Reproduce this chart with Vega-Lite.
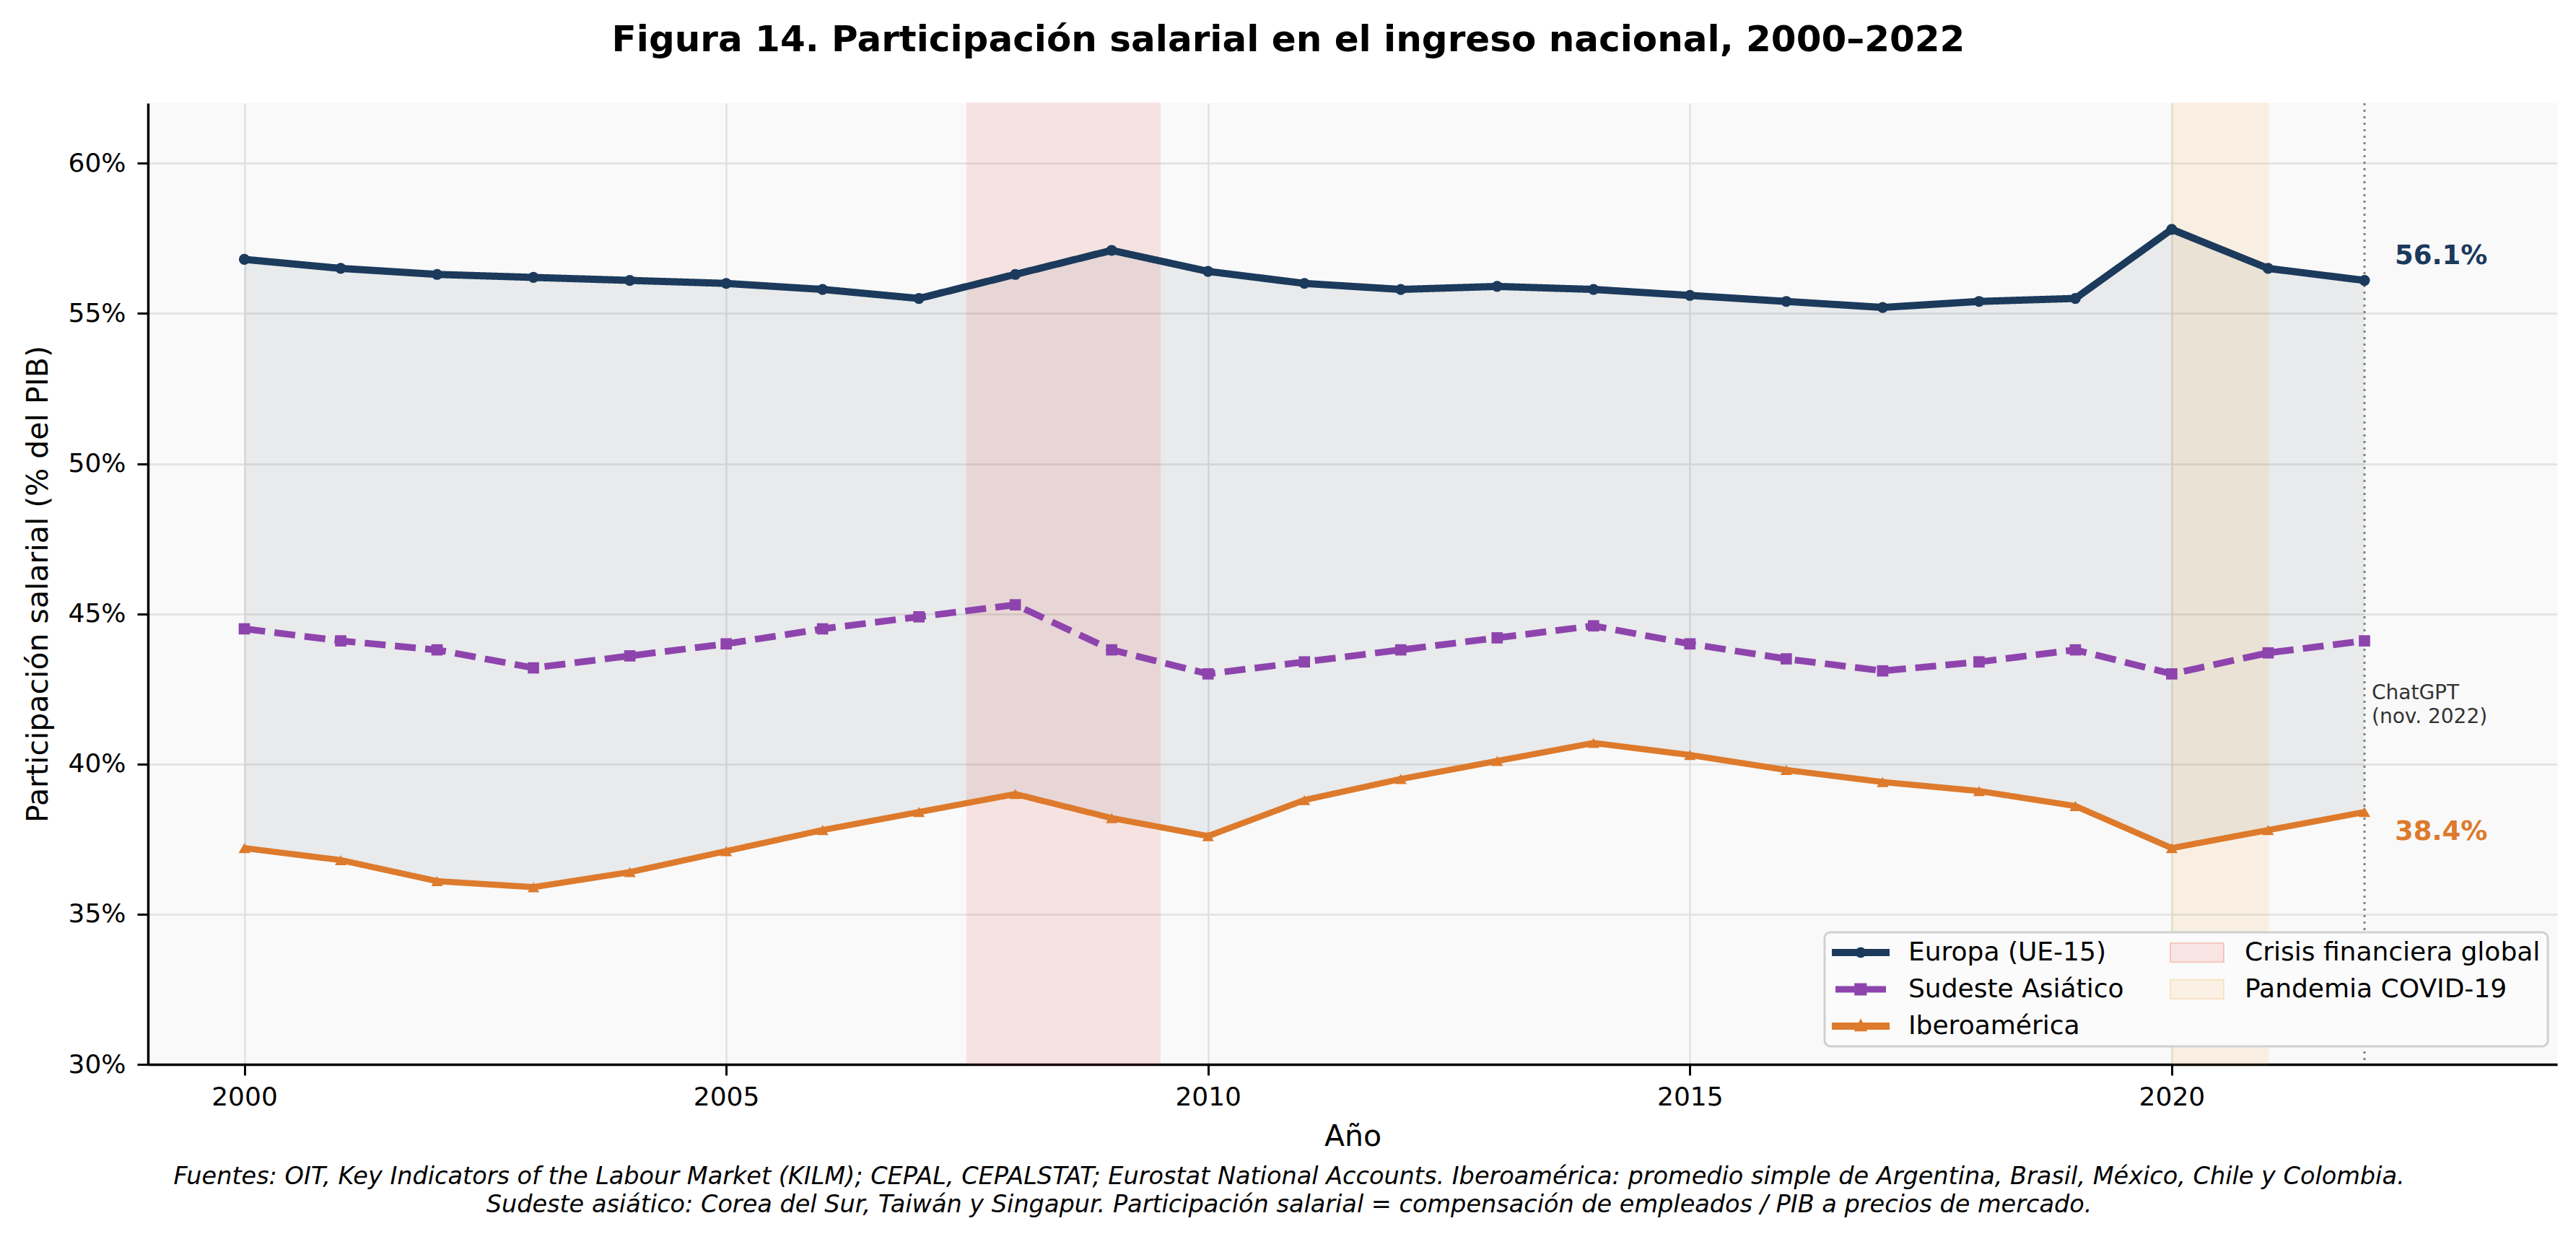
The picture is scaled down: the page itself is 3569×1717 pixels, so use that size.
{
  "$schema": "https://vega.github.io/schema/vega-lite/v6.json",
  "description": "Participación salarial en el ingreso nacional, 2000-2022: Europa, Sudeste Asiático e Iberoamérica.",
  "background": "white",
  "padding": {"left": 32, "top": 30, "right": 20, "bottom": 20},
  "bounds": "flush",
  "title": {
    "text": "Figura 14. Participación salarial en el ingreso nacional, 2000–2022",
    "font": "DejaVu Sans",
    "fontSize": 50,
    "fontWeight": "bold",
    "color": "black",
    "anchor": "middle",
    "baseline": "alphabetic",
    "dx": -3,
    "offset": 21
  },
  "config": {
    "font": "DejaVu Sans",
    "view": {"fill": "#f9f9f9", "stroke": null},
    "axis": {
      "labelFont": "DejaVu Sans",
      "labelFontSize": 36,
      "labelColor": "black",
      "titleFont": "DejaVu Sans",
      "titleFontSize": 41,
      "titleFontWeight": "normal",
      "titleColor": "black",
      "domainColor": "black",
      "domainWidth": 3.5,
      "tickColor": "black",
      "tickWidth": 3,
      "tickSize": 15,
      "gridColor": "#e0e0e0",
      "gridWidth": 2.5
    }
  },
  "datasets": {
    "series": [
      {"anio": 2000, "serie": "Europa (UE-15)", "valor": 56.8},
      {"anio": 2001, "serie": "Europa (UE-15)", "valor": 56.5},
      {"anio": 2002, "serie": "Europa (UE-15)", "valor": 56.3},
      {"anio": 2003, "serie": "Europa (UE-15)", "valor": 56.2},
      {"anio": 2004, "serie": "Europa (UE-15)", "valor": 56.1},
      {"anio": 2005, "serie": "Europa (UE-15)", "valor": 56.0},
      {"anio": 2006, "serie": "Europa (UE-15)", "valor": 55.8},
      {"anio": 2007, "serie": "Europa (UE-15)", "valor": 55.5},
      {"anio": 2008, "serie": "Europa (UE-15)", "valor": 56.3},
      {"anio": 2009, "serie": "Europa (UE-15)", "valor": 57.1},
      {"anio": 2010, "serie": "Europa (UE-15)", "valor": 56.4},
      {"anio": 2011, "serie": "Europa (UE-15)", "valor": 56.0},
      {"anio": 2012, "serie": "Europa (UE-15)", "valor": 55.8},
      {"anio": 2013, "serie": "Europa (UE-15)", "valor": 55.9},
      {"anio": 2014, "serie": "Europa (UE-15)", "valor": 55.8},
      {"anio": 2015, "serie": "Europa (UE-15)", "valor": 55.6},
      {"anio": 2016, "serie": "Europa (UE-15)", "valor": 55.4},
      {"anio": 2017, "serie": "Europa (UE-15)", "valor": 55.2},
      {"anio": 2018, "serie": "Europa (UE-15)", "valor": 55.4},
      {"anio": 2019, "serie": "Europa (UE-15)", "valor": 55.5},
      {"anio": 2020, "serie": "Europa (UE-15)", "valor": 57.8},
      {"anio": 2021, "serie": "Europa (UE-15)", "valor": 56.5},
      {"anio": 2022, "serie": "Europa (UE-15)", "valor": 56.1},
      {"anio": 2000, "serie": "Sudeste Asiático", "valor": 44.5},
      {"anio": 2001, "serie": "Sudeste Asiático", "valor": 44.1},
      {"anio": 2002, "serie": "Sudeste Asiático", "valor": 43.8},
      {"anio": 2003, "serie": "Sudeste Asiático", "valor": 43.2},
      {"anio": 2004, "serie": "Sudeste Asiático", "valor": 43.6},
      {"anio": 2005, "serie": "Sudeste Asiático", "valor": 44.0},
      {"anio": 2006, "serie": "Sudeste Asiático", "valor": 44.5},
      {"anio": 2007, "serie": "Sudeste Asiático", "valor": 44.9},
      {"anio": 2008, "serie": "Sudeste Asiático", "valor": 45.3},
      {"anio": 2009, "serie": "Sudeste Asiático", "valor": 43.8},
      {"anio": 2010, "serie": "Sudeste Asiático", "valor": 43.0},
      {"anio": 2011, "serie": "Sudeste Asiático", "valor": 43.4},
      {"anio": 2012, "serie": "Sudeste Asiático", "valor": 43.8},
      {"anio": 2013, "serie": "Sudeste Asiático", "valor": 44.2},
      {"anio": 2014, "serie": "Sudeste Asiático", "valor": 44.6},
      {"anio": 2015, "serie": "Sudeste Asiático", "valor": 44.0},
      {"anio": 2016, "serie": "Sudeste Asiático", "valor": 43.5},
      {"anio": 2017, "serie": "Sudeste Asiático", "valor": 43.1},
      {"anio": 2018, "serie": "Sudeste Asiático", "valor": 43.4},
      {"anio": 2019, "serie": "Sudeste Asiático", "valor": 43.8},
      {"anio": 2020, "serie": "Sudeste Asiático", "valor": 43.0},
      {"anio": 2021, "serie": "Sudeste Asiático", "valor": 43.7},
      {"anio": 2022, "serie": "Sudeste Asiático", "valor": 44.1},
      {"anio": 2000, "serie": "Iberoamérica", "valor": 37.2},
      {"anio": 2001, "serie": "Iberoamérica", "valor": 36.8},
      {"anio": 2002, "serie": "Iberoamérica", "valor": 36.1},
      {"anio": 2003, "serie": "Iberoamérica", "valor": 35.9},
      {"anio": 2004, "serie": "Iberoamérica", "valor": 36.4},
      {"anio": 2005, "serie": "Iberoamérica", "valor": 37.1},
      {"anio": 2006, "serie": "Iberoamérica", "valor": 37.8},
      {"anio": 2007, "serie": "Iberoamérica", "valor": 38.4},
      {"anio": 2008, "serie": "Iberoamérica", "valor": 39.0},
      {"anio": 2009, "serie": "Iberoamérica", "valor": 38.2},
      {"anio": 2010, "serie": "Iberoamérica", "valor": 37.6},
      {"anio": 2011, "serie": "Iberoamérica", "valor": 38.8},
      {"anio": 2012, "serie": "Iberoamérica", "valor": 39.5},
      {"anio": 2013, "serie": "Iberoamérica", "valor": 40.1},
      {"anio": 2014, "serie": "Iberoamérica", "valor": 40.7},
      {"anio": 2015, "serie": "Iberoamérica", "valor": 40.3},
      {"anio": 2016, "serie": "Iberoamérica", "valor": 39.8},
      {"anio": 2017, "serie": "Iberoamérica", "valor": 39.4},
      {"anio": 2018, "serie": "Iberoamérica", "valor": 39.1},
      {"anio": 2019, "serie": "Iberoamérica", "valor": 38.6},
      {"anio": 2020, "serie": "Iberoamérica", "valor": 37.2},
      {"anio": 2021, "serie": "Iberoamérica", "valor": 37.8},
      {"anio": 2022, "serie": "Iberoamérica", "valor": 38.4}
    ],
    "periodos": [
      {"periodo": "Crisis financiera global", "inicio": 2007.5, "fin": 2009.5},
      {"periodo": "Pandemia COVID-19", "inicio": 2020, "fin": 2021}
    ],
    "hitos": [
      {"anio": 2022, "evento": "ChatGPT\n(nov. 2022)"}
    ],
    "ultimos": [
      {"anio": 2022, "serie": "Europa (UE-15)", "valor": 56.1, "texto": "56.1%"},
      {"anio": 2022, "serie": "Iberoamérica", "valor": 38.4, "texto": "38.4%"}
    ]
  },
  "vconcat": [
    {
      "width": 3338,
      "height": 1332,
      "title": {
        "text": [
          "Fuentes: OIT, Key Indicators of the Labour Market (KILM); CEPAL, CEPALSTAT; Eurostat National Accounts. Iberoamérica: promedio simple de Argentina, Brasil, México, Chile y Colombia.",
          "Sudeste asiático: Corea del Sur, Taiwán y Singapur. Participación salarial = compensación de empleados / PIB a precios de mercado."
        ],
        "orient": "bottom",
        "anchor": "middle",
        "font": "DejaVu Sans",
        "fontSize": 33.5,
        "fontStyle": "italic",
        "fontWeight": "normal",
        "color": "black",
        "lineHeight": 39,
        "baseline": "top",
        "dx": -88,
        "offset": 20
      },
      "layer": [
        {
          "data": {"name": "series"},
          "transform": [{"pivot": "serie", "value": "valor", "groupby": ["anio"]}],
          "mark": {"type": "area", "color": "#2c3e50", "opacity": 0.08},
          "encoding": {
            "x": {
              "field": "anio",
              "type": "quantitative",
              "scale": {"domain": [1999, 2024], "nice": false, "zero": false},
              "axis": {
                "title": "Año",
                "values": [2000, 2005, 2010, 2015, 2020],
                "format": "d",
                "labelPadding": 13,
                "titlePadding": 17
              }
            },
            "y": {
              "field": "Europa (UE-15)",
              "type": "quantitative",
              "scale": {"domain": [30, 62], "nice": false, "zero": false},
              "axis": {
                "title": "Participación salarial (% del PIB)",
                "values": [30, 35, 40, 45, 50, 55, 60],
                "labelExpr": "datum.value + '%'",
                "labelPadding": 16,
                "titlePadding": 19
              }
            },
            "y2": {"field": "Iberoamérica"}
          }
        },
        {
          "data": {"name": "periodos"},
          "mark": {"type": "rect", "opacity": 0.12, "strokeWidth": 2},
          "encoding": {
            "x": {"field": "inicio", "type": "quantitative"},
            "x2": {"field": "fin"},
            "color": {"field": "periodo", "type": "nominal"},
            "stroke": {
              "field": "periodo",
              "type": "nominal",
              "scale": {"domain": ["Crisis financiera global", "Pandemia COVID-19"], "range": ["#e74c3c", "#f5b041"]},
              "legend": null
            }
          }
        },
        {
          "data": {"name": "hitos"},
          "mark": {"type": "rule", "color": "#808080", "strokeWidth": 3, "strokeDash": [3, 6]},
          "encoding": {"x": {"field": "anio", "type": "quantitative"}}
        },
        {
          "data": {"name": "hitos"},
          "mark": {
            "type": "text",
            "align": "left",
            "baseline": "middle",
            "dx": 10,
            "fontSize": 28,
            "color": "#333333",
            "lineBreak": "\n",
            "lineHeight": 33
          },
          "encoding": {
            "x": {"field": "anio", "type": "quantitative"},
            "y": {"datum": 42.35},
            "text": {"field": "evento"}
          }
        },
        {
          "data": {"name": "series"},
          "mark": {"type": "line", "strokeJoin": "round"},
          "encoding": {
            "x": {"field": "anio", "type": "quantitative"},
            "y": {"field": "valor", "type": "quantitative"},
            "color": {
              "field": "serie",
              "type": "nominal",
              "scale": {
                "domain": ["Europa (UE-15)", "Sudeste Asiático", "Iberoamérica", "Crisis financiera global", "Pandemia COVID-19"],
                "range": ["#1b3a5c", "#8e44ad", "#dd7a2c", "#e74c3c", "#f5b041"]
              },
              "legend": {
                "orient": "none",
                "legendX": 2323,
                "legendY": 1149,
                "title": null,
                "columns": 2,
                "columnPadding": 60,
                "rowPadding": 15,
                "padding": 10,
                "symbolSize": 1296,
                "labelFont": "DejaVu Sans",
                "labelFontSize": 36,
                "labelColor": "black",
                "labelLimit": 1000,
                "fillColor": "#fbfbfb",
                "strokeColor": "#d0d0d0",
                "cornerRadius": 8,
                "encode": {
                  "legend": {"update": {"strokeWidth": {"value": 3}}},
                  "labels": {"update": {"x": {"value": 106}, "y": {"value": 18}}},
                  "symbols": {
                    "update": {
                      "x": {"value": 40},
                      "y": {"value": 18},
                      "size": {"value": 6400},
                      "opacity": {"value": 1},
                      "strokeDash": {"value": [1, 0]},
                      "shape": {"signal": "datum.value === 'Europa (UE-15)' ? 'M-1,-0.125H1V0.125H-1Z M0.19,0L0.165,0.095L0.095,0.165L0,0.19L-0.095,0.165L-0.165,0.095L-0.19,0L-0.165,-0.095L-0.095,-0.165L0,-0.19L0.095,-0.165L0.165,-0.095Z' : datum.value === 'Sudeste Asiático' ? 'M-0.875,-0.11H-0.22V0.11H-0.875Z M-0.22,-0.21H0.21V0.21H-0.22Z M0.21,-0.11H0.875V0.11H0.21Z' : datum.value === 'Iberoamérica' ? 'M-1,-0.125H1V0.125H-1Z M0,-0.27L0.23,0.18L-0.23,0.18Z' : 'M-0.925,-0.33H0.925V0.33H-0.925Z'"},
                      "fill": {"signal": "datum.value === 'Europa (UE-15)' ? '#1b3a5c' : datum.value === 'Sudeste Asiático' ? '#8e44ad' : datum.value === 'Iberoamérica' ? '#dd7a2c' : datum.value === 'Crisis financiera global' ? '#e74c3c' : '#f5b041'"},
                      "stroke": {"signal": "datum.value === 'Crisis financiera global' ? '#e74c3c' : '#f5b041'"},
                      "fillOpacity": {"signal": "indexof(['Crisis financiera global', 'Pandemia COVID-19'], datum.value) >= 0 ? 0.12 : 1"},
                      "strokeOpacity": {"signal": "indexof(['Crisis financiera global', 'Pandemia COVID-19'], datum.value) >= 0 ? 0.25 : 0"},
                      "strokeWidth": {"value": 2}
                    }
                  }
                }
              }
            },
            "strokeDash": {
              "field": "serie",
              "type": "nominal",
              "scale": {"domain": ["Europa (UE-15)", "Sudeste Asiático", "Iberoamérica"], "range": [[1, 0], [29, 13], [1, 0]]},
              "legend": null
            },
            "strokeWidth": {
              "field": "serie",
              "type": "nominal",
              "scale": {"domain": ["Europa (UE-15)", "Sudeste Asiático", "Iberoamérica"], "range": [10, 8.5, 10]},
              "legend": null
            }
          }
        },
        {
          "data": {"name": "series"},
          "mark": {"type": "point", "filled": true, "opacity": 1},
          "encoding": {
            "x": {"field": "anio", "type": "quantitative"},
            "y": {"field": "valor", "type": "quantitative"},
            "color": {"field": "serie", "type": "nominal"},
            "shape": {
              "field": "serie",
              "type": "nominal",
              "scale": {"domain": ["Europa (UE-15)", "Sudeste Asiático", "Iberoamérica"], "range": ["circle", "square", "triangle-up"]},
              "legend": null
            },
            "size": {
              "field": "serie",
              "type": "nominal",
              "scale": {"domain": ["Europa (UE-15)", "Sudeste Asiático", "Iberoamérica"], "range": [230, 260, 330]},
              "legend": null
            }
          }
        },
        {
          "data": {"name": "ultimos"},
          "transform": [{"filter": "datum.serie === 'Europa (UE-15)'"}],
          "mark": {"type": "text", "align": "left", "baseline": "middle", "dx": 42, "dy": -34, "fontSize": 37, "fontWeight": "bold", "color": "#1b3a5c"},
          "encoding": {
            "x": {"field": "anio", "type": "quantitative"},
            "y": {"field": "valor", "type": "quantitative"},
            "text": {"field": "texto"}
          }
        },
        {
          "data": {"name": "ultimos"},
          "transform": [{"filter": "datum.serie === 'Iberoamérica'"}],
          "mark": {"type": "text", "align": "left", "baseline": "middle", "dx": 42, "dy": 28, "fontSize": 37, "fontWeight": "bold", "color": "#dd7a2c"},
          "encoding": {
            "x": {"field": "anio", "type": "quantitative"},
            "y": {"field": "valor", "type": "quantitative"},
            "text": {"field": "texto"}
          }
        }
      ]
    }
  ]
}
